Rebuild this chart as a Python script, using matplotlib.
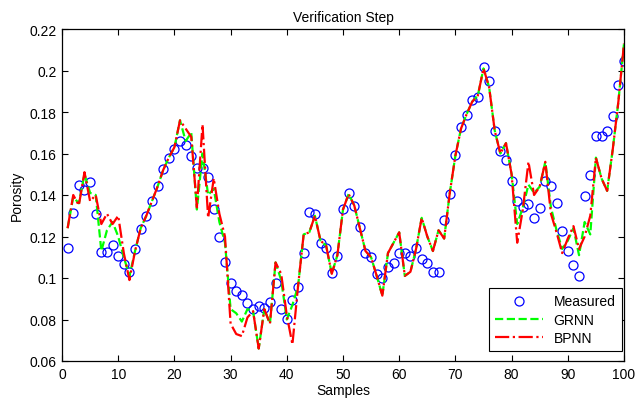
import matplotlib
matplotlib.use("Agg")
import matplotlib.pyplot as plt
import numpy as np

plt.rcParams['font.family'] = ['Liberation Sans', 'DejaVu Sans']

samples = list(range(1, 101))

measured = [
    0.1145, 0.1313, 0.1450, 0.1426, 0.1461, 0.1309, 0.1127, 0.1127, 0.1158, 0.1105,
    0.1068, 0.1028, 0.1140, 0.1236, 0.1301, 0.1370, 0.1445, 0.1525, 0.1578, 0.1622,
    0.1662, 0.1643, 0.1590, 0.1529, 0.1530, 0.1485, 0.1333, 0.1196, 0.1079, 0.0975,
    0.0939, 0.0920, 0.0878, 0.0851, 0.0864, 0.0856, 0.0883, 0.0975, 0.0851, 0.0803,
    0.0894, 0.0955, 0.1119, 0.1317, 0.1309, 0.1169, 0.1143, 0.1023, 0.1108, 0.1333,
    0.1410, 0.1349, 0.1244, 0.1119, 0.1101, 0.1020, 0.1000, 0.1052, 0.1071, 0.1119,
    0.1120, 0.1108, 0.1145, 0.1092, 0.1071, 0.1031, 0.1031, 0.1281, 0.1405, 0.1595,
    0.1726, 0.1787, 0.1858, 0.1874, 0.2019, 0.1948, 0.1707, 0.1611, 0.1570, 0.1466,
    0.1373, 0.1341, 0.1357, 0.1288, 0.1338, 0.1466, 0.1445, 0.1360, 0.1225, 0.1129,
    0.1063, 0.1012, 0.1394, 0.1498, 0.1686, 0.1686, 0.1707, 0.1782, 0.1932, 0.2047,
]

grnn = [
    0.124, 0.139, 0.136, 0.150, 0.141, 0.140, 0.113, 0.123, 0.127, 0.120,
    0.110, 0.101, 0.113, 0.124, 0.130, 0.137, 0.144, 0.152, 0.158, 0.163,
    0.176, 0.166, 0.170, 0.133, 0.160, 0.140, 0.143, 0.127, 0.117, 0.085,
    0.083, 0.079, 0.085, 0.084, 0.066, 0.085, 0.078, 0.1075, 0.099, 0.080,
    0.087, 0.096, 0.121, 0.122, 0.130, 0.118, 0.1156, 0.102, 0.111, 0.133,
    0.1405, 0.135, 0.124, 0.113, 0.110, 0.101, 0.0915, 0.112, 0.117, 0.122,
    0.101, 0.103, 0.114, 0.129, 0.120, 0.113, 0.123, 0.119, 0.141, 0.159,
    0.172, 0.179, 0.185, 0.188, 0.201, 0.192, 0.171, 0.160, 0.165, 0.150,
    0.126, 0.134, 0.145, 0.141, 0.144, 0.156, 0.134, 0.123, 0.114, 0.118,
    0.124, 0.111, 0.127, 0.121, 0.158, 0.148, 0.142, 0.162, 0.185, 0.213,
]

bpnn = [
    0.124, 0.140, 0.135, 0.151, 0.137, 0.140, 0.126, 0.131, 0.126, 0.130,
    0.112, 0.099, 0.113, 0.124, 0.130, 0.137, 0.144, 0.152, 0.158, 0.163,
    0.176, 0.172, 0.168, 0.134, 0.174, 0.129, 0.148, 0.131, 0.120, 0.078,
    0.073, 0.072, 0.081, 0.084, 0.066, 0.085, 0.078, 0.1075, 0.102, 0.082,
    0.068, 0.096, 0.121, 0.122, 0.130, 0.118, 0.1156, 0.102, 0.111, 0.133,
    0.1405, 0.135, 0.124, 0.113, 0.110, 0.101, 0.0915, 0.112, 0.117, 0.122,
    0.101, 0.103, 0.114, 0.129, 0.120, 0.113, 0.123, 0.119, 0.141, 0.159,
    0.172, 0.179, 0.185, 0.188, 0.201, 0.192, 0.171, 0.160, 0.165, 0.150,
    0.117, 0.133, 0.156, 0.140, 0.144, 0.156, 0.131, 0.122, 0.112, 0.119,
    0.125, 0.114, 0.120, 0.130, 0.158, 0.148, 0.142, 0.162, 0.185, 0.213,
]

xticks = [0, 10, 20, 30, 40, 50, 60, 70, 80, 90, 100]
yticks = [0.06, 0.08, 0.10, 0.12, 0.14, 0.16, 0.18, 0.20, 0.22]
ytick_labels = ['0.06', '0.08', '0.1', '0.12', '0.14', '0.16', '0.18', '0.2', '0.22']

fig = plt.figure(figsize=(6.35, 4.02), dpi=100)
ax = fig.add_axes([62 / 635, 1 - 362 / 402, (624 - 62) / 635, (362 - 30) / 402])

ax.plot(samples, measured, linestyle='none', marker='o', markersize=6.5,
        markerfacecolor='none', markeredgecolor='#0000ff', markeredgewidth=0.9,
        label='Measured')
ax.plot(samples, grnn, linestyle='--', color='#00ff00', linewidth=1.6, label='GRNN')
ax.plot(samples, bpnn, linestyle='-.', color='#ff0000', linewidth=1.6, label='BPNN')

ax.set_xlim(0, 100)
ax.set_ylim(0.06, 0.22)
ax.set_xticks(xticks)
ax.set_yticks(yticks)
ax.set_yticklabels(ytick_labels)
ax.tick_params(direction='in', top=True, right=True, length=4, width=0.8,
               labelsize=10, colors='black', pad=4)
for sp in ax.spines.values():
    sp.set_linewidth(0.9)
    sp.set_color('black')

ax.set_title('Verification Step', fontsize=10, pad=6)
ax.set_xlabel('Samples', fontsize=10, labelpad=2)
ax.set_ylabel('Porosity', fontsize=10, labelpad=4)

leg = ax.legend(loc='lower right', bbox_to_anchor=(0.996, 0.03), borderaxespad=0,
                fontsize=10, fancybox=False, framealpha=1,
                edgecolor='black', handlelength=3.4,
                borderpad=0.45, labelspacing=0.3)
leg.get_frame().set_linewidth(0.8)

fig.savefig('out.png', dpi=100)
